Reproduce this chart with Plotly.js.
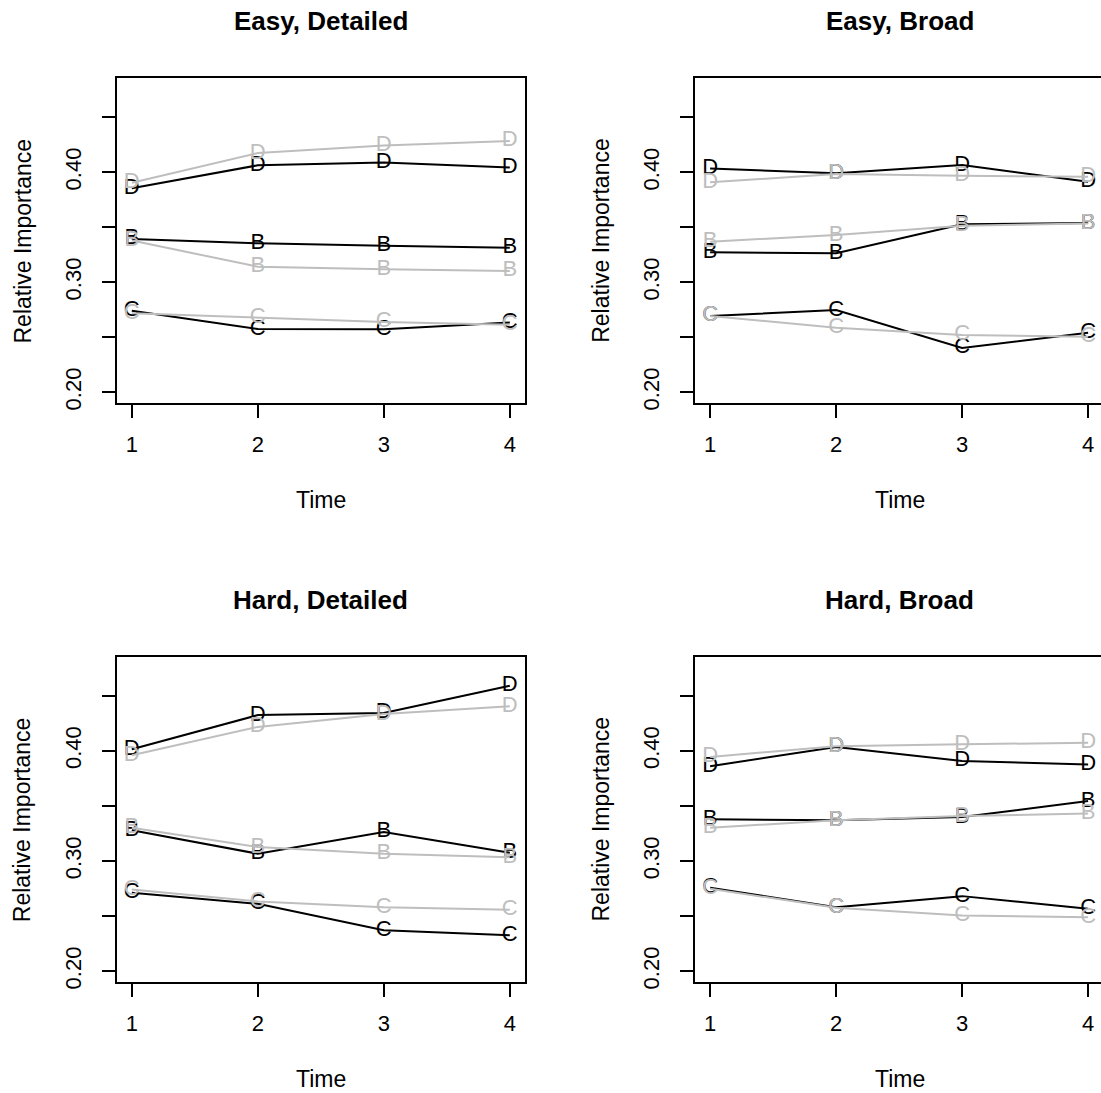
<!DOCTYPE html>
<html>
<head>
<meta charset="utf-8">
<script src="https://cdn.plot.ly/plotly-3.0.1.min.js"></script>
<style>html,body{margin:0;padding:0;background:#fff;} #chart{width:1101px;height:1093px;}</style>
</head>
<body>
<div id="chart"></div>
<script>
// ---- data ----
const times = [1, 2, 3, 4];
const panelTitles = ['Easy, Detailed', 'Easy, Broad', 'Hard, Detailed', 'Hard, Broad'];
const xTickVals = [1, 2, 3, 4];
const xTickText = ['1', '2', '3', '4'];
const yTickVals = [0.20, 0.25, 0.30, 0.35, 0.40, 0.45];
const yTickText = ['0.20', '', '0.30', '', '0.40', ''];
const xTitle = 'Time';
const yTitle = 'Relative Importance';

// Easy, Detailed
const edBlackD = [0.3855, 0.4064, 0.4090, 0.4045];
const edGreyD  = [0.3905, 0.4175, 0.4245, 0.4285];
const edBlackB = [0.3394, 0.3355, 0.3333, 0.3315];
const edGreyB  = [0.3380, 0.3142, 0.3118, 0.3103];
const edBlackC = [0.2742, 0.2575, 0.2573, 0.2635];
const edGreyC  = [0.2718, 0.2678, 0.2640, 0.2615];
// Easy, Broad
const ebBlackD = [0.4036, 0.3991, 0.4066, 0.3915];
const ebGreyD  = [0.3909, 0.3985, 0.3969, 0.3960];
const ebBlackB = [0.3273, 0.3264, 0.3527, 0.3539];
const ebGreyB  = [0.3369, 0.3430, 0.3515, 0.3535];
const ebBlackC = [0.2694, 0.2748, 0.2403, 0.2542];
const ebGreyC  = [0.2694, 0.2587, 0.2521, 0.2506];
// Hard, Detailed
const hdBlackD = [0.4015, 0.4325, 0.4345, 0.4591];
const hdGreyD  = [0.3961, 0.4218, 0.4334, 0.4406];
const hdBlackB = [0.3279, 0.3067, 0.3264, 0.3076];
const hdGreyB  = [0.3303, 0.3127, 0.3067, 0.3034];
const hdBlackC = [0.2712, 0.2612, 0.2373, 0.2327];
const hdGreyC  = [0.2743, 0.2634, 0.2582, 0.2558];
// Hard, Broad
const hbBlackD = [0.3861, 0.4036, 0.3909, 0.3876];
const hbGreyD  = [0.3945, 0.4043, 0.4061, 0.4073];
const hbBlackB = [0.3379, 0.3370, 0.3400, 0.3545];
const hbGreyB  = [0.3303, 0.3370, 0.3409, 0.3431];
const hbBlackC = [0.2758, 0.2582, 0.2682, 0.2567];
const hbGreyC  = [0.2749, 0.2576, 0.2506, 0.2491];

// ---- build ----
const W = 1101, H = 1093;
const FONT = 'Liberation Sans, Arial, Helvetica, sans-serif';
const BLACK = '#000000', GREY = '#BEBEBE';
const px = v => v / W;
const py = v => 1 - v / H;

const panels = [
  {black: [edBlackD, edBlackB, edBlackC], grey: [edGreyD, edGreyB, edGreyC]},
  {black: [ebBlackD, ebBlackB, ebBlackC], grey: [ebGreyD, ebGreyB, ebGreyC]},
  {black: [hdBlackD, hdBlackB, hdBlackC], grey: [hdGreyD, hdGreyB, hdGreyC]},
  {black: [hbBlackD, hbBlackB, hbBlackC], grey: [hbGreyD, hbGreyB, hbGreyC]}
];
const letters = ['D', 'B', 'C'];

// geometry (pixels)
const geo = [
  {l: 116.7, r: 525.0, t: 78.3, b: 403.3},
  {l: 695.0, r: 1101, t: 78.3, b: 403.3},
  {l: 116.7, r: 525.0, t: 656.7, b: 982.3},
  {l: 695.0, r: 1101, t: 656.7, b: 982.3}
];
const pxPerX = 126;

const traces = [];
const layout = {
  width: W, height: H,
  margin: {l: 0, r: 0, t: 0, b: 0},
  paper_bgcolor: '#ffffff', plot_bgcolor: '#ffffff',
  showlegend: false,
  font: {family: FONT, size: 22, color: '#000'},
  annotations: []
};

panels.forEach((p, i) => {
  const k = i + 1;
  const xa = 'x' + (k === 1 ? '' : k), ya = 'y' + (k === 1 ? '' : k);
  const g = geo[i];
  const groups = [['black', BLACK], ['grey', GREY]];
  groups.forEach(([key, col]) => {
    p[key].forEach((vals, j) => {
      traces.push({
        x: times, y: vals, xaxis: xa, yaxis: ya,
        type: 'scatter', mode: 'lines+text',
        text: times.map(() => letters[j]),
        textposition: 'middle center',
        textfont: {family: FONT, size: 22, color: col},
        line: {color: col, width: 2},
        hoverinfo: 'skip', cliponaxis: true
      });
    });
  });
  const xr = [0.88, 0.88 + (g.r - g.l) / pxPerX];
  const right = (i % 2 === 1);
  layout['xaxis' + (k === 1 ? '' : k)] = {
    domain: [px(g.l), px(g.r)], anchor: ya,
    range: xr, tickvals: xTickVals, ticktext: xTickText,
    ticks: 'outside', ticklen: 13, tickwidth: 2, tickcolor: '#000',
    showline: true, linecolor: '#000', linewidth: 2, mirror: true,
    showgrid: false, zeroline: false, fixedrange: true,
    ticklabelstandoff: 7,
    tickfont: {family: FONT, size: 22, color: '#000'}
  };
  layout['yaxis' + (k === 1 ? '' : k)] = {
    domain: [py(g.b), py(g.t)], anchor: xa,
    range: [0.19, 0.4855], tickvals: yTickVals, ticktext: yTickText,
    tickangle: -90,
    ticks: 'outside', ticklen: 13, tickwidth: 2, tickcolor: '#000',
    showline: true, linecolor: '#000', linewidth: 2, mirror: right ? false : true,
    showgrid: false, zeroline: false, fixedrange: true,
    ticklabelstandoff: 12,
    tickfont: {family: FONT, size: 22, color: '#000'}
  };
  const cx = right ? (g.l + 1104) / 2 : (g.l + g.r) / 2;
  layout.annotations.push({
    xref: 'paper', yref: 'paper', x: px(cx), y: py(g.t - 57),
    xanchor: 'center', yanchor: 'middle', showarrow: false,
    text: '<b>' + panelTitles[i] + '</b>',
    font: {family: FONT, size: 26, color: '#000'}
  });
  layout.annotations.push({
    xref: 'paper', yref: 'paper', x: px(cx), y: py(g.b + 97),
    xanchor: 'center', yanchor: 'middle', showarrow: false,
    text: xTitle, font: {family: FONT, size: 23, color: '#000'}
  });
  layout.annotations.push({
    xref: 'paper', yref: 'paper', x: px(g.l - 94), y: py((g.t + g.b) / 2),
    xanchor: 'center', yanchor: 'middle', showarrow: false, textangle: -90,
    text: yTitle, font: {family: FONT, size: 23, color: '#000'}
  });
});

Plotly.newPlot('chart', traces, layout, {staticPlot: true, displayModeBar: false});
</script>
</body>
</html>
